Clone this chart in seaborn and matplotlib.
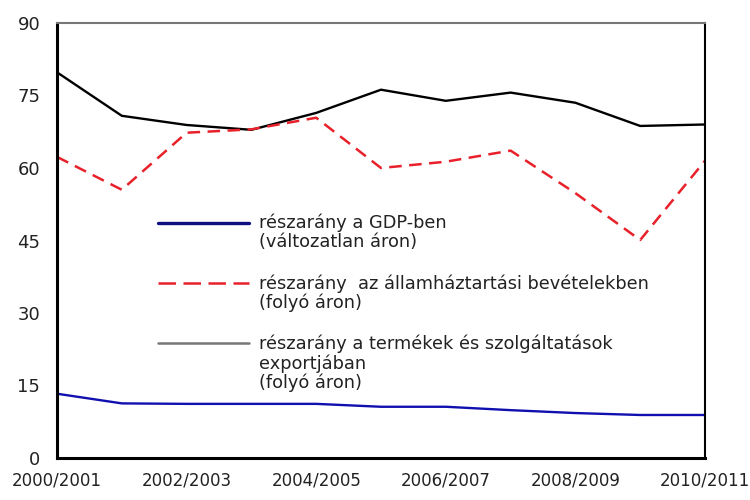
import numpy as np
import pandas as pd
import matplotlib
matplotlib.use("Agg")
import matplotlib.pyplot as plt
from matplotlib.lines import Line2D
from matplotlib.legend_handler import HandlerLine2D
import seaborn as sns

# adatok
years = ["2000/2001", "2001/2002", "2002/2003", "2003/2004", "2004/2005", "2005/2006",
         "2006/2007", "2007/2008", "2008/2009", "2009/2010", "2010/2011"]
gdp = [13.3, 11.3, 11.2, 11.2, 11.2, 10.6, 10.6, 9.9, 9.3, 8.9, 8.9]
bevetel = [62.3, 55.5, 67.3, 68.0, 70.4, 60.0, 61.3, 63.6, 54.8, 45.1, 61.5]
export = [79.8, 70.8, 68.9, 67.9, 71.4, 76.2, 73.9, 75.6, 73.5, 68.7, 69.0]

labels = ["részarány a GDP-ben\n(változatlan áron)",
          "részarány  az államháztartási bevételekben\n(folyó áron)",
          "részarány a termékek és szolgáltatások\nexportjában\n(folyó áron)"]

df = pd.DataFrame({"x": np.arange(len(years)), "gdp": gdp,
                   "bevetel": bevetel, "export": export})


# jelmagyarázat vonala az első sorhoz igazítva
class FirstLine(HandlerLine2D):
    def __init__(self, shift, **kw):
        super().__init__(**kw)
        self.shift = shift

    def create_artists(self, *args, **kwargs):
        arts = super().create_artists(*args, **kwargs)
        for a in arts:
            a.set_ydata(np.asarray(a.get_ydata()) + self.shift)
        return arts


sns.set_style("white")
plt.rcParams["font.family"] = ["DejaVu Sans"]

fig = plt.figure(figsize=(7.5, 5), dpi=100)
ax = fig.add_axes([0.076, 0.084, 0.864, 0.87])

sns.lineplot(data=df, x="x", y="export", color="black", lw=1.7, ax=ax)
sns.lineplot(data=df, x="x", y="bevetel", color="#e8202a", lw=1.8, ax=ax,
             dashes=False, linestyle=(0, (5, 3)))
sns.lineplot(data=df, x="x", y="gdp", color="#1010b0", lw=1.7, ax=ax)

ax.set_xlim(0, len(years) - 1)
ax.set_ylim(0, 90)
ax.set_yticks([0, 15, 30, 45, 60, 75, 90])
ax.set_yticklabels(["0", "15", "30", "45", "60", "75", "90"], fontsize=13, color="#222222")
ax.set_xticks(df["x"][::2])
ax.set_xticklabels(years[::2], fontsize=12, color="#222222")
ax.set_xlabel("")
ax.set_ylabel("")
ax.tick_params(direction="in", length=5, width=2, color="black")
ax.tick_params(axis="x", pad=10)
ax.tick_params(axis="y", pad=12)

for s in ["left", "bottom"]:
    ax.spines[s].set_linewidth(2.2)
    ax.spines[s].set_color("black")
ax.spines["right"].set_linewidth(1.5)
ax.spines["right"].set_color("black")
ax.spines["top"].set_linewidth(1.5)
ax.spines["top"].set_color("#777777")

fs = 12.8
ls = 15.0  # sortávolság pontban
handles = [Line2D([], [], color="#101080", lw=2.4),
           Line2D([], [], color="#e8202a", lw=1.8, linestyle=(0, (7, 3))),
           Line2D([], [], color="#777777", lw=1.8)]
hmap = {handles[0]: FirstLine(ls / 2), handles[1]: FirstLine(ls / 2),
        handles[2]: FirstLine(ls)}
leg = ax.legend(handles, labels, handler_map=hmap, loc="upper left",
                bbox_to_anchor=(0.142, 0.582), frameon=False, fontsize=fs,
                handlelength=5.1, handletextpad=0.6, labelspacing=1.3, borderpad=0)
for t in leg.get_texts():
    t.set_linespacing(1.05)
    t.set_color("#222222")

fig.savefig("out.png", dpi=100)
